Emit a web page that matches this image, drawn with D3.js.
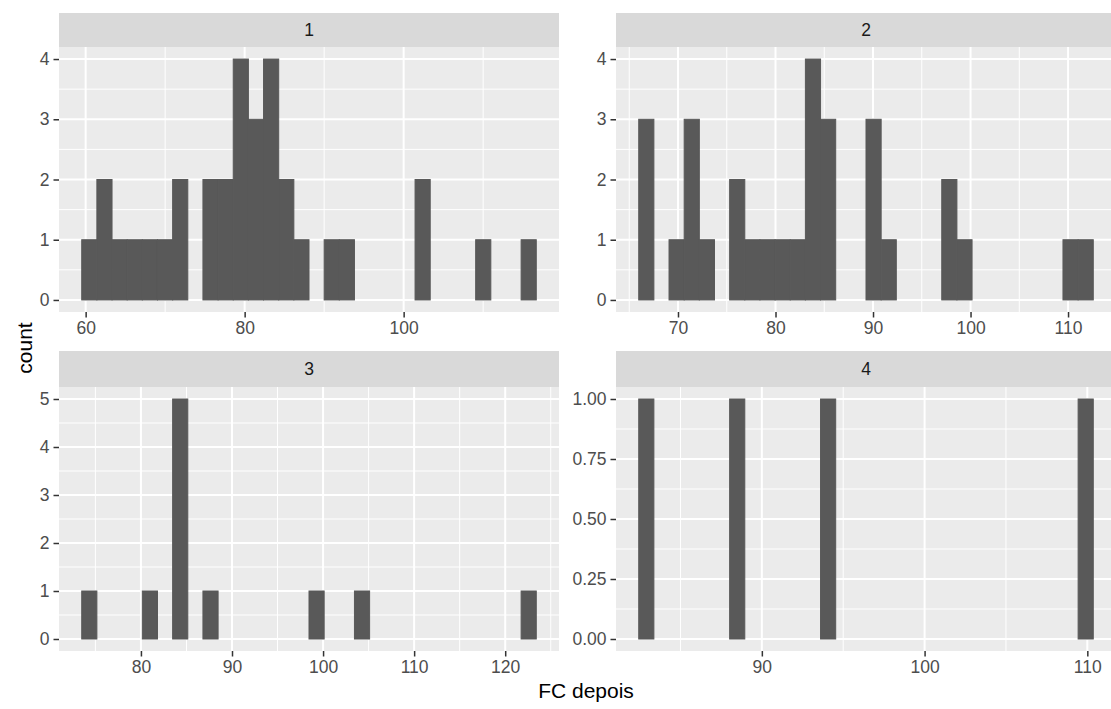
<!DOCTYPE html>
<html>
<head>
<meta charset="utf-8">
<script src="https://cdn.jsdelivr.net/npm/d3@7"></script>
<style>
  html, body { margin: 0; padding: 0; background: #ffffff; }
  svg { display: block; }
</style>
</head>
<body>
<svg id="chart" width="1111" height="709"></svg>
<script>
// ---- data ----
const facetLabels = ["1", "2", "3", "4"];
const dataMin = [60.46, 66.75, 74.33, 82.9];
const dataMax = [115.73, 111.81, 122.58, 109.9];
const counts1 = [1,2,1,1,1,1,2,0,2,2,4,3,4,2,1,0,1,1,0,0,0,0,2,0,0,0,1,0,0,1];
const counts2 = [3,0,1,3,1,0,2,1,1,1,1,4,3,0,0,3,1,0,0,0,2,1,0,0,0,0,0,0,1,1];
const counts3 = [1,0,0,0,1,0,5,0,1,0,0,0,0,0,0,1,0,0,1,0,0,0,0,0,0,0,0,0,0,1];
const counts4 = [1,0,0,0,0,0,1,0,0,0,0,0,1,0,0,0,0,0,0,0,0,0,0,0,0,0,0,0,0,1];
const xTicks1 = [60, 80, 100];
const xTicks2 = [70, 80, 90, 100, 110];
const xTicks3 = [80, 90, 100, 110, 120];
const xTicks4 = [90, 100, 110];
const yTicks1 = [0, 1, 2, 3, 4];
const yTicks2 = [0, 1, 2, 3, 4];
const yTicks3 = [0, 1, 2, 3, 4, 5];
const yTicks4 = [0, 0.25, 0.5, 0.75, 1];
const yFormat = [d3.format("d"), d3.format("d"), d3.format("d"), d3.format(".2f")];
const xTitle = "FC depois";
const yTitle = "count";

const allCounts = [counts1, counts2, counts3, counts4];
const allXTicks = [xTicks1, xTicks2, xTicks3, xTicks4];
const allYTicks = [yTicks1, yTicks2, yTicks3, yTicks4];

// ---- layout ----
const colX = [59, 616];
const panelW = 500;
const stripTop = [13, 351];
const panelTop = [47, 387];
const panelBot = [312, 651];

const FONT = "'Liberation Sans', Arial, sans-serif";
const svg = d3.select("#chart");

function minorBreaks(major, lo, hi) {
  const bd = major[1] - major[0];
  let b = major.slice();
  if (lo < b[0]) b.unshift(b[0] - bd);
  if (hi > b[b.length - 1]) b.push(b[b.length - 1] + bd);
  const m = [];
  for (let i = 0; i < b.length - 1; i++) m.push((b[i] + b[i + 1]) / 2);
  return m.filter(v => v >= lo && v <= hi);
}

for (let p = 0; p < 4; p++) {
  const col = p % 2, row = Math.floor(p / 2);
  const x0 = colX[col], x1 = colX[col] + panelW;
  const y0 = panelTop[row], y1 = panelBot[row];
  const counts = allCounts[p];
  const nb = counts.length;
  const w = (dataMax[p] - dataMin[p]) / (nb - 1);
  const bins = counts.map((c, i) => ({
    x0: dataMin[p] - w / 2 + i * w,
    x1: dataMin[p] + w / 2 + i * w,
    c: c
  }));
  const L = bins[0].x0, R = bins[nb - 1].x1, S = R - L;
  const x = d3.scaleLinear().domain([L - 0.05 * S, R + 0.05 * S]).range([x0, x1]);
  const cmax = d3.max(counts);
  const y = d3.scaleLinear().domain([-0.05 * cmax, 1.05 * cmax]).range([y1, y0]);

  const g = svg.append("g");
  // strip
  g.append("rect").attr("x", x0).attr("y", stripTop[row]).attr("width", panelW)
    .attr("height", y0 - stripTop[row]).attr("fill", "#d9d9d9");
  g.append("text").attr("x", (x0 + x1) / 2).attr("y", (stripTop[row] + y0) / 2)
    .attr("dy", "0.35em").attr("text-anchor", "middle")
    .attr("font-family", FONT).attr("font-size", 17.5).attr("fill", "#1a1a1a")
    .text(facetLabels[p]);
  // panel bg
  g.append("rect").attr("x", x0).attr("y", y0).attr("width", panelW)
    .attr("height", y1 - y0).attr("fill", "#ebebeb");

  const xd = x.domain(), yd = y.domain();
  const xMinor = minorBreaks(allXTicks[p], xd[0], xd[1]);
  const yMinor = minorBreaks(allYTicks[p], yd[0], yd[1]);
  // minor grid
  g.selectAll(null).data(xMinor).enter().append("line")
    .attr("x1", d => x(d)).attr("x2", d => x(d)).attr("y1", y0).attr("y2", y1)
    .attr("stroke", "#ffffff").attr("stroke-width", 1);
  g.selectAll(null).data(yMinor).enter().append("line")
    .attr("y1", d => y(d)).attr("y2", d => y(d)).attr("x1", x0).attr("x2", x1)
    .attr("stroke", "#ffffff").attr("stroke-width", 1);
  // major grid
  g.selectAll(null).data(allXTicks[p]).enter().append("line")
    .attr("x1", d => x(d)).attr("x2", d => x(d)).attr("y1", y0).attr("y2", y1)
    .attr("stroke", "#ffffff").attr("stroke-width", 2);
  g.selectAll(null).data(allYTicks[p]).enter().append("line")
    .attr("y1", d => y(d)).attr("y2", d => y(d)).attr("x1", x0).attr("x2", x1)
    .attr("stroke", "#ffffff").attr("stroke-width", 2);

  // bars
  g.selectAll(null).data(bins.filter(b => b.c > 0)).enter().append("rect")
    .attr("x", d => x(d.x0)).attr("width", d => x(d.x1) - x(d.x0))
    .attr("y", d => y(d.c)).attr("height", d => y(0) - y(d.c))
    .attr("fill", "#595959").attr("stroke", "#595959").attr("stroke-width", 1);

  // axes
  const xAxis = d3.axisBottom(x).tickValues(allXTicks[p]).tickSize(5.5).tickPadding(4);
  const ax = g.append("g").attr("transform", `translate(0,${y1})`).call(xAxis);
  const yAxis = d3.axisLeft(y).tickValues(allYTicks[p]).tickSize(5.5).tickPadding(4)
    .tickFormat(yFormat[p]);
  const ay = g.append("g").attr("transform", `translate(${x0},0)`).call(yAxis);
  [ax, ay].forEach(a => {
    a.select(".domain").remove();
    a.selectAll(".tick line").attr("stroke", "#333333").attr("stroke-width", 1.5);
    a.selectAll(".tick text").attr("fill", "#4d4d4d")
      .attr("font-family", FONT).attr("font-size", 17.5);
  });
  ax.selectAll(".tick text").attr("dy", "0.71em").attr("y", 10);
}

// axis titles
svg.append("text").attr("x", 586).attr("y", 698).attr("text-anchor", "middle")
  .attr("font-family", FONT).attr("font-size", 21).attr("fill", "#000000").text(xTitle);
svg.append("text").attr("transform", "translate(31.5,348) rotate(-90)")
  .attr("text-anchor", "middle")
  .attr("font-family", FONT).attr("font-size", 21).attr("fill", "#000000").text(yTitle);
</script>
</body>
</html>
